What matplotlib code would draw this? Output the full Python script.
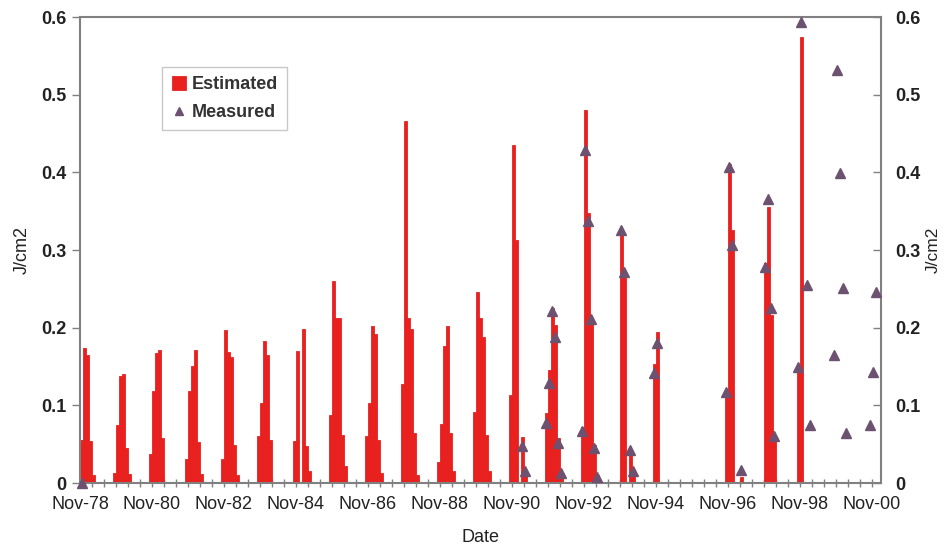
import numpy as np
import pandas as pd
import matplotlib
matplotlib.use("Agg")
import matplotlib.pyplot as plt
from matplotlib.ticker import FixedLocator, FuncFormatter

plt.rcParams["font.family"] = ["Liberation Sans", "DejaVu Sans"]

# ── Data: monthly totals per season (first month given, then consecutive months) ──
est_start = ["1978-11", "1979-10", "1980-10", "1981-10", "1982-10", "1983-10",
             "1984-10", "1985-10", "1986-10", "1987-10", "1988-10", "1989-10",
             "1990-10", "1991-10", "1992-10", "1993-10", "1994-10", "1996-10",
             "1997-11", "1998-10"]
est_values = [
    [0.056, 0.174, 0.165, 0.054, 0.010],
    [0.013, 0.075, 0.138, 0.140, 0.045, 0.012],
    [0.038, 0.118, 0.168, 0.172, 0.058],
    [0.031, 0.118, 0.151, 0.171, 0.053, 0.012],
    [0.031, 0.197, 0.169, 0.163, 0.049, 0.010],
    [0.060, 0.103, 0.183, 0.165, 0.055],
    [0.054, 0.170, 0.000, 0.199, 0.048, 0.015],
    [0.088, 0.260, 0.213, 0.213, 0.062, 0.022],
    [0.060, 0.103, 0.202, 0.192, 0.055, 0.013],
    [0.128, 0.466, 0.213, 0.199, 0.065, 0.010],
    [0.027, 0.076, 0.177, 0.202, 0.065, 0.016],
    [0.091, 0.246, 0.213, 0.188, 0.062, 0.015],
    [0.113, 0.436, 0.313, 0.000, 0.059, 0.012],
    [0.090, 0.145, 0.226, 0.203, 0.058, 0.013],
    [0.072, 0.481, 0.348, 0.211, 0.049, 0.010],
    [0.000, 0.326, 0.272, 0.000, 0.038, 0.012],
    [0.154, 0.195],
    [0.115, 0.411, 0.326, 0.000, 0.000, 0.008],
    [0.283, 0.355, 0.216, 0.055],
    [0.150, 0.575],
]

meas_start = ["1978-11", "1991-02", "1991-10", "1992-10", "1993-11", "1994-10",
              "1996-10", "1997-11", "1998-10", "1999-10", "2000-10"]
meas_values = [
    [0.0],
    [0.048, 0.015],
    [0.078, 0.129, 0.221, 0.188, 0.052, 0.0125],
    [0.067, 0.429, 0.338, 0.211, 0.045, 0.008],
    [0.326, 0.272, np.nan, 0.043, 0.016],
    [0.142, 0.180],
    [0.117, 0.407, 0.306, np.nan, np.nan, 0.017],
    [0.278, 0.366, 0.225, 0.060],
    [0.150, 0.594, np.nan, 0.255, 0.075],
    [0.165, 0.532, 0.399, 0.251, 0.064],
    [0.075, 0.143, 0.246],
]

ORIGIN = pd.Period("1978-11", freq="M")


def expand(starts, values):
    months, vals = [], []
    for s, vs in zip(starts, values):
        m0 = (pd.Period(s, freq="M") - ORIGIN).n
        for i, v in enumerate(vs):
            months.append(m0 + i)
            vals.append(v)
    return np.array(months), np.array(vals, dtype=float)


est_m, est_v = expand(est_start, est_values)
meas_m, meas_v = expand(meas_start, meas_values)
ok = ~np.isnan(meas_v)
meas_m, meas_v = meas_m[ok], meas_v[ok]

# ── Figure ─────────────────────────────────────────────────────────────────
RED = "#E8211F"
PURPLE = "#6C5270"
GREY = "#808080"

fig = plt.figure(figsize=(9.49, 5.54), dpi=100)
ax = fig.add_axes([0.0843, 0.128, 0.8440, 0.841])

bars = ax.bar(est_m, est_v, width=1.0, align="edge", color=RED,
              edgecolor=RED, linewidth=0.6, label="Estimated", zorder=2)
pts, = ax.plot(meas_m + 0.5, meas_v, linestyle="none", marker="^", markersize=7,
               color=PURPLE, label="Measured", zorder=3, clip_on=False)

ax.set_xlim(0, 267)
ax.set_ylim(0, 0.6)
ax.set_yticks(np.arange(0, 0.61, 0.1))
ax.yaxis.set_major_formatter(FuncFormatter(lambda v, p: "0" if v == 0 else f"{v:.1f}"))

ax.xaxis.set_major_locator(FixedLocator(np.arange(0, 268, 4)))


def month_label(v, pos):
    m = int(round(v))
    if m % 24:
        return ""
    return (ORIGIN + m).strftime("%b-%y")


ax.xaxis.set_major_formatter(FuncFormatter(month_label))
ax.tick_params(axis="x", direction="inout", length=6, width=1, color=GREY,
               labelsize=13, labelcolor="#222222", pad=6)
ax.tick_params(axis="y", direction="out", length=6, width=1, color=GREY,
               labelsize=13, labelcolor="#222222")
for lab in ax.get_yticklabels():
    lab.set_fontweight("bold")

for sp in ax.spines.values():
    sp.set_color(GREY)
    sp.set_linewidth(1.5)

ax.set_xlabel("Date", fontsize=13, color="#222222", labelpad=12)
ax.set_ylabel("J/cm2", fontsize=13, color="#222222", labelpad=8)

ax2 = ax.twinx()
ax2.set_ylim(0, 0.6)
ax2.set_yticks(np.arange(0, 0.61, 0.1))
ax2.yaxis.set_major_formatter(FuncFormatter(lambda v, p: "0" if v == 0 else f"{v:.1f}"))
ax2.tick_params(axis="y", direction="in", length=6, width=1, color=GREY,
                labelsize=13, labelcolor="#222222", pad=10)
for lab in ax2.get_yticklabels():
    lab.set_fontweight("bold")
for sp in ax2.spines.values():
    sp.set_visible(False)
ax2.set_ylabel("J/cm2", fontsize=12.5, color="#222222", labelpad=4)

leg = ax.legend([bars, pts], ["Estimated", "Measured"], loc="upper left",
                bbox_to_anchor=(0.103, 0.893), borderaxespad=0, frameon=True,
                fancybox=False, edgecolor="#BBBBBB", prop={"weight": "bold", "size": 13},
                handlelength=0.8, handleheight=0.8, handletextpad=0.3,
                borderpad=0.5, labelspacing=0.6, markerscale=0.8)
leg.get_frame().set_linewidth(1.0)
for t in leg.get_texts():
    t.set_color("#333333")

fig.savefig("out.png", dpi=100)
